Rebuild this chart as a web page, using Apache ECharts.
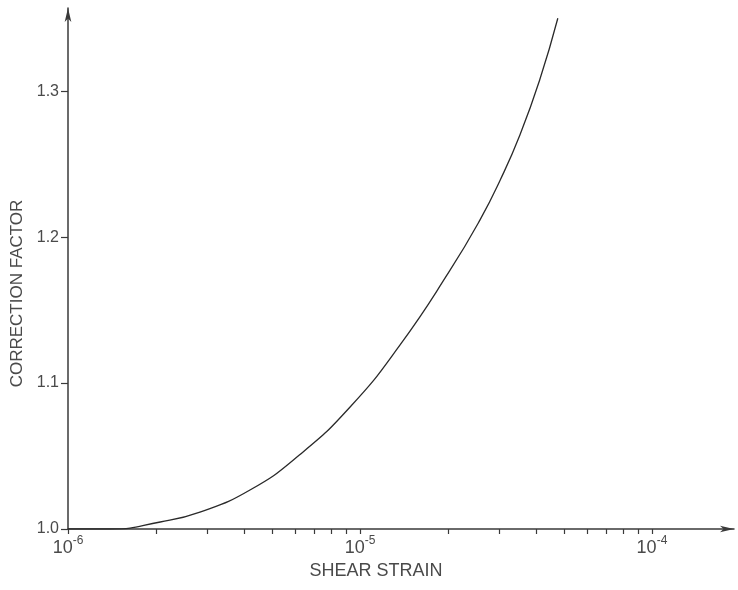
<!DOCTYPE html>
<html>
<head>
<meta charset="utf-8">
<script src="https://cdn.jsdelivr.net/npm/echarts@6/dist/echarts.min.js"></script>
<style>
  html, body { margin: 0; padding: 0; background: #fff; }
  #chart { width: 738px; height: 590px; }
</style>
</head>
<body>
<div id="chart"></div>
<script>
const strain = [1e-6, 1.4e-6, 2.07e-6, 2.83e-6, 4.2e-6, 6.2e-6, 9.25e-6,
  1.37e-5, 2.03e-5, 2.58e-5, 3.02e-5, 3.53e-5, 4.13e-5, 4.76e-5];
const factor = [1.000, 1.000, 1.0048, 1.0116, 1.0267, 1.0507, 1.0836,
  1.126, 1.177, 1.212, 1.239, 1.270, 1.308, 1.350];
const decades = [-6, -5, -4];      // 10^-6, 10^-5, 10^-4
const yTicks = [1.0, 1.1, 1.2, 1.3];

const xMax = -3.719;
// minor log ticks 2..9 inside each decade
const xTicks = [];
decades.forEach(d => {
  for (let k = 1; k <= 9; k++) {
    const v = d + Math.log10(k);
    if (v <= xMax) xTicks.push(v);
  }
});

const ink = '#3a3a3a';
const textInk = '#4a4a4a';
const font = 'Liberation Sans';

const chart = echarts.init(document.getElementById('chart'));
chart.setOption({
  animation: false,
  grid: { left: 68, right: 4, top: 8, bottom: 61 },
  xAxis: {
    type: 'value',
    min: -6,
    max: xMax,
    name: 'SHEAR STRAIN',
    nameLocation: 'middle',
    nameGap: 26,
    nameTextStyle: { color: textInk, fontFamily: font, fontSize: 18, padding: [0, 50, 0, 0] },
    splitLine: { show: false },
    axisLine: {
      lineStyle: { color: ink, width: 1.5 },
      symbol: ['none', 'arrow'],
      symbolSize: [5, 14]
    },
    axisTick: { customValues: xTicks, length: 5, lineStyle: { color: ink, width: 1.2 } },
    axisLabel: {
      customValues: decades,
      margin: 6,
      color: textInk,
      fontFamily: font,
      formatter: v => '{a|10}{b|' + v + '}',
      rich: {
        a: { fontSize: 18, fontFamily: font, color: textInk },
        b: { fontSize: 12, fontFamily: font, color: textInk, verticalAlign: 'bottom', padding: [0, 0, 14, 0] }
      }
    }
  },
  yAxis: {
    type: 'value',
    min: 1.0,
    max: 1.357,
    name: 'CORRECTION FACTOR',
    nameLocation: 'middle',
    nameRotate: 90,
    nameGap: 42,
    nameTextStyle: { color: textInk, fontFamily: font, fontSize: 17, padding: [0, 50, 0, 0] },
    splitLine: { show: false },
    axisLine: {
      lineStyle: { color: ink, width: 1.5 },
      symbol: ['none', 'arrow'],
      symbolSize: [5, 14]
    },
    axisTick: { customValues: yTicks, length: 7, lineStyle: { color: ink, width: 1.2 } },
    axisLabel: {
      customValues: yTicks,
      margin: 9,
      color: textInk,
      fontFamily: font,
      fontSize: 16,
      formatter: v => v.toFixed(1)
    }
  },
  series: [{
    type: 'line',
    data: strain.map((s, i) => [Math.log10(s), factor[i]]),
    smooth: 0.5,
    showSymbol: false,
    lineStyle: { color: '#2a2a2a', width: 1.3 }
  }]
});
</script>
</body>
</html>
